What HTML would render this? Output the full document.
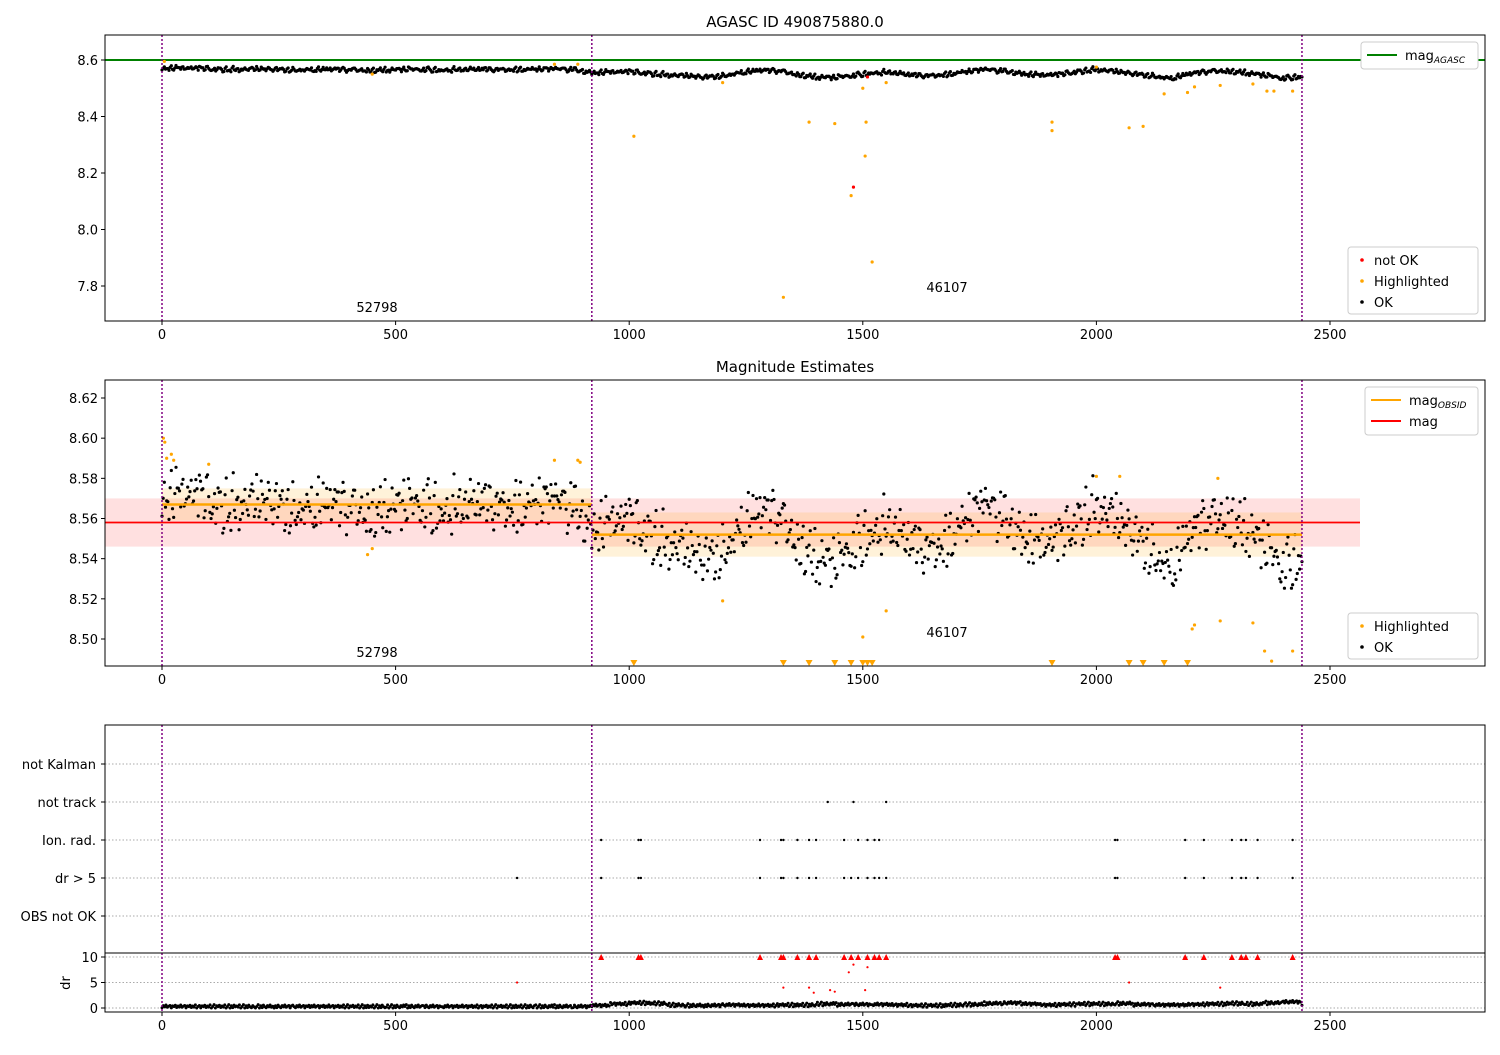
<!DOCTYPE html>
<html><head><meta charset="utf-8"><style>
body{margin:0;background:#fff;font-family:"Liberation Sans","DejaVu Sans",sans-serif}
svg text{font-family:"DejaVu Sans","Liberation Sans",sans-serif}
</style></head><body>
<svg id="chart" width="1500" height="1050" xmlns="http://www.w3.org/2000/svg"></svg>
<script>
// ---- data ----
const trendX = [0,40,80,120,160,200,240,280,320,360,400,440,480,520,560,600,640,680,720,760,800,840,880,920,960,1000,1040,1080,1120,1160,1200,1240,1280,1320,1360,1400,1440,1480,1520,1560,1600,1640,1680,1720,1760,1800,1840,1880,1920,1960,2000,2040,2080,2120,2160,2200,2240,2280,2320,2360,2400,2440];
const trendMag = [8.572,8.570,8.569,8.568,8.567,8.567,8.566,8.566,8.566,8.566,8.566,8.565,8.565,8.566,8.566,8.566,8.566,8.566,8.566,8.567,8.567,8.567,8.567,8.556,8.556,8.557,8.554,8.548,8.543,8.538,8.545,8.556,8.562,8.562,8.550,8.540,8.537,8.545,8.556,8.556,8.546,8.544,8.550,8.558,8.565,8.562,8.553,8.545,8.547,8.560,8.567,8.558,8.550,8.545,8.535,8.550,8.560,8.563,8.555,8.545,8.535,8.543];
const jitter = [-0.006,0.004,-0.002,0.007,-0.004,0.001,0.005,-0.007,0.003,-0.001,0.006,-0.005,0.002,-0.003,0.008,-0.008,0.000,0.009,-0.009,0.0035,-0.0055,0.0065,-0.0015];
const hl1 = [[450,8.55],[1010,8.33],[1200,8.52],[1330,7.76],[1385,8.38],[1440,8.375],[1475,8.12],[1500,8.5],[1505,8.26],[1507,8.38],[1520,7.885],[1550,8.52],[1905,8.38],[1905,8.35],[2000,8.575],[2070,8.36],[2100,8.365],[2145,8.48],[2195,8.485],[2210,8.505],[2265,8.51],[2335,8.515],[2365,8.49],[2380,8.49],[2420,8.49],[5,8.595],[840,8.585],[890,8.585]];
const bad1 = [[1480,8.15],[1510,8.54]];
const hl2 = [[3,8.6],[6,8.598],[10,8.59],[20,8.592],[25,8.589],[100,8.587],[840,8.589],[890,8.589],[895,8.588],[440,8.542],[450,8.545],[1200,8.519],[1500,8.501],[1550,8.514],[2205,8.505],[2210,8.507],[2265,8.509],[2335,8.508],[2360,8.494],[2375,8.489],[2420,8.494],[2000,8.581],[2050,8.581],[2260,8.58]];
const lowX = [1010,1330,1385,1440,1475,1500,1510,1520,1905,2070,2100,2145,2195];
const obsStart = [0,920], obsEnd = [920,2440], obsMag = [8.567,8.552], obsStd = [0.008,0.011];
const magAll = 8.558, magStd = 0.012;
const drBigX = [760,940,1020,1025,1280,1325,1330,1360,1385,1400,1460,1475,1490,1510,1525,1535,1550,2040,2045,2190,2230,2290,2310,2320,2345,2420];
const ionX = [940,1020,1025,1280,1325,1330,1360,1385,1400,1460,1490,1510,1525,1535,2040,2045,2190,2230,2290,2310,2320,2345,2420];
const trackX = [1425,1480,1550];
const drMid = [[760,5],[1330,4],[1385,4],[1395,3],[1430,3.5],[1440,3.2],[1470,7],[1480,8.5],[1510,8],[1505,3.5],[2070,5],[2265,4]];
const drTrend = [0.3,0.3,0.3,0.3,0.3,0.3,0.3,0.3,0.3,0.3,0.3,0.3,0.3,0.3,0.3,0.3,0.3,0.3,0.3,0.3,0.3,0.3,0.3,0.5,0.8,1.0,0.9,0.6,0.5,0.5,0.6,0.5,0.5,0.6,0.6,0.8,0.7,0.7,0.7,0.6,0.5,0.5,0.6,0.7,0.9,1.0,0.8,0.6,0.7,0.8,0.8,0.9,0.7,0.6,0.6,0.7,0.8,0.9,0.8,1.0,1.2,0.6];
const cats = ["not Kalman","not track","Ion. rad.","dr > 5","OBS not OK"];
const xTicks = [0,500,1000,1500,2000,2500];
const y1Ticks = [7.8,8.0,8.2,8.4,8.6];
const y2Ticks = [8.50,8.52,8.54,8.56,8.58,8.60,8.62];
const drTicks = [0,5,10];

// ---- helpers ----
const svg=document.getElementById('chart');const NS='http://www.w3.org/2000/svg';
function el(t,a,p){const e=document.createElementNS(NS,t);for(const k in a)e.setAttribute(k,a[k]);(p||svg).appendChild(e);return e;}
function txt(s,a,p){const e=el('text',a,p);e.textContent=s;return e;}
const L=105,R=1485;
const X=v=>162+v*0.4672;
function lin(d0,d1,p0,p1){return v=>p0+(v-d0)*(p1-p0)/(d1-d0);}
const Y1=lin(8.6,7.8,60,286), Y2=lin(8.62,8.50,398,639), Y4=lin(0,10,1008,957);
function frame(top,bot,name){const r=el('rect',{x:L,y:top,width:R-L,height:bot-top,fill:'none',stroke:'#000','stroke-width':1});}
function xaxis(bot,name){const g=el('g',{});
 xTicks.forEach(t=>{el('line',{x1:X(t),x2:X(t),y1:bot,y2:bot+4,stroke:'#000'},g);txt(t,{x:X(t),y:bot+18,'font-size':13,'text-anchor':'middle'},g);});}
function yaxis(ticks,Y,name,fmt){const g=el('g',{});
 ticks.forEach(t=>{el('line',{x1:L-4,x2:L,y1:Y(t),y2:Y(t),stroke:'#000'},g);txt(fmt(t),{x:L-7,y:Y(t)+5,'font-size':13,'text-anchor':'end'},g);});}
function vlines(top,bot){[0,920,2440].forEach(v=>{const l=el('line',{x1:X(v),x2:X(v),y1:top,y2:bot,stroke:'#800080','stroke-width':1.5,'stroke-dasharray':'2,2'});});}
function okPoints(Y,g,clipTop,clipBot,scale){
 for(let i=0;i<trendX.length;i++){const n=(i===trendX.length-1)?1:16;const m1=trendMag[i],m2=trendMag[Math.min(i+1,trendMag.length-1)];
  for(let k=0;k<n;k++){const f=k/n;const x=trendX[i]+f*40;const j=jitter[(i*7+k*5)%jitter.length]+0.5*jitter[(i*3+k*11)%jitter.length];const m=m1+(m2-m1)*f+j*scale;
   const y=Y(m);if(y<clipTop||y>clipBot)continue;el('circle',{cx:X(x),cy:y,r:1.6,fill:'#000'},g);}}}
function pts(arr,Y,color,g,r){arr.forEach(p=>el('circle',{cx:X(p[0]),cy:Y(p[1]),r:r||1.6,fill:color},g));}

// ---- panel 1 ----
txt('AGASC ID 490875880.0',{x:795,y:27,'font-size':15,'text-anchor':'middle'});
const aline=el('line',{x1:L,x2:R,y1:Y1(8.6),y2:Y1(8.6),stroke:'green','stroke-width':2});
let g1=el('g',{});
okPoints(Y1,g1,35,321,0.8);
let g1h=el('g',{});pts(hl1,Y1,'orange',g1h);
let g1b=el('g',{});pts(bad1,Y1,'red',g1b);
vlines(35,321);frame(35,321,'top-axes');xaxis(321,'x-axis-top');yaxis(y1Ticks,Y1,'y-axis-top',t=>t.toFixed(1));
txt('52798',{x:377,y:312,'font-size':13,'text-anchor':'middle'});
txt('46107',{x:947,y:292,'font-size':13,'text-anchor':'middle'});
function legend(x,y,w,h,items,name){const g=el('g',{});
 el('rect',{x:x,y:y,width:w,height:h,fill:'#fff',stroke:'#ccc',rx:3},g);
 items.forEach((it,i)=>{const cy=y+13+i*21;if(it.t==='line')el('line',{x1:x+6,x2:x+36,y1:cy,y2:cy,stroke:it.c,'stroke-width':2},g);else el('circle',{cx:x+14,cy:cy,r:1.8,fill:it.c},g);
  const t=txt(it.s,{x:it.t==='line'?x+44:x+26,y:cy+5,'font-size':13},g);if(it.sub){const s=el('tspan',{'font-size':9,dy:3,'font-style':'italic'},t);s.textContent=it.sub;}});}
legend(1361,42,117,27,[{t:'line',c:'green',s:'mag',sub:'AGASC'}],'legend-top-line');
legend(1348,247,130,67,[{t:'pt',c:'red',s:'not OK'},{t:'pt',c:'orange',s:'Highlighted'},{t:'pt',c:'#000',s:'OK'}],'legend-top-points');

// ---- panel 2 ----
txt('Magnitude Estimates',{x:795,y:372,'font-size':15,'text-anchor':'middle'});
const band=el('rect',{x:L,y:Y2(magAll+magStd),width:1360-L,height:Y2(magAll-magStd)-Y2(magAll+magStd),fill:'red','fill-opacity':0.12});
for(let i=0;i<obsStart.length;i++){const b=el('rect',{x:X(obsStart[i]),y:Y2(obsMag[i]+obsStd[i]),width:X(obsEnd[i])-X(obsStart[i]),height:Y2(obsMag[i]-obsStd[i])-Y2(obsMag[i]+obsStd[i]),fill:'orange','fill-opacity':0.15});}
let g2=el('g',{});
okPoints(Y2,g2,380,666,1.2);
for(let i=0;i<obsStart.length;i++){const l=el('line',{x1:X(obsStart[i]),x2:X(obsEnd[i]),y1:Y2(obsMag[i]),y2:Y2(obsMag[i]),stroke:'orange','stroke-width':2.5});}
const ml=el('line',{x1:L,x2:1360,y1:Y2(magAll),y2:Y2(magAll),stroke:'red','stroke-width':1.8});
let g2h=el('g',{});pts(hl2,Y2,'orange',g2h);
lowX.forEach(x=>el('path',{d:`M${X(x)-3.5},660 L${X(x)+3.5},660 L${X(x)},666 Z`,fill:'orange'},g2h));
vlines(380,666);frame(380,666,'middle-axes');xaxis(666,'x-axis-middle');yaxis(y2Ticks,Y2,'y-axis-middle',t=>t.toFixed(2));
txt('52798',{x:377,y:657,'font-size':13,'text-anchor':'middle'});
txt('46107',{x:947,y:637,'font-size':13,'text-anchor':'middle'});
legend(1365,387,113,48,[{t:'line',c:'orange',s:'mag',sub:'OBSID'},{t:'line',c:'red',s:'mag'}],'legend-middle-lines');
legend(1348,613,130,46,[{t:'pt',c:'orange',s:'Highlighted'},{t:'pt',c:'#000',s:'OK'}],'legend-middle-points');

// ---- panel 3 ----
const catY=i=>764+i*38;
const g3=el('g',{});
cats.forEach((c,i)=>{el('line',{x1:L,x2:R,y1:catY(i),y2:catY(i),stroke:'#aaa','stroke-dasharray':'1.5,2'},g3);el('line',{x1:L-4,x2:L,y1:catY(i),y2:catY(i),stroke:'#000'},g3);txt(c,{x:L-9,y:catY(i)+5,'font-size':13,'text-anchor':'end'},g3);});
drBigX.forEach(x=>el('circle',{cx:X(x),cy:catY(3),r:1.2,fill:'#000'},g3));
ionX.forEach(x=>el('circle',{cx:X(x),cy:catY(2),r:1.2,fill:'#000'},g3));
trackX.forEach(x=>el('circle',{cx:X(x),cy:catY(1),r:1.2,fill:'#000'},g3));
vlines(725,953);frame(725,953,'flags-axes');

// ---- panel 4 ----
const g4=el('g',{});
[0,5,10].forEach(t=>el('line',{x1:L,x2:R,y1:Y4(t),y2:Y4(t),stroke:'#aaa','stroke-dasharray':'1.5,2'},g4));
for(let i=0;i<trendX.length;i++){const n=(i===trendX.length-1)?1:14;for(let k=0;k<n;k++){const x=trendX[i]+k*40/n;const v=Math.max(0,drTrend[i]+jitter[(i*3+k)%jitter.length]*40);el('circle',{cx:X(x),cy:Y4(v),r:1.5,fill:'#000'},g4);}}
drBigX.filter(x=>x!==760).forEach(x=>el('path',{d:`M${X(x)},954 L${X(x)+3},960 L${X(x)-3},960 Z`,fill:'red'},g4));
drMid.forEach(p=>el('circle',{cx:X(p[0]),cy:Y4(p[1]),r:1.1,fill:'red'},g4));
vlines(953,1012);frame(953,1012,'dr-axes');xaxis(1012,'x-axis-bottom');yaxis(drTicks,Y4,'y-axis-dr',t=>t);
txt('dr',{x:70,y:983,'font-size':13,'text-anchor':'middle',transform:'rotate(-90 70 983)'});
</script>
</body></html>
